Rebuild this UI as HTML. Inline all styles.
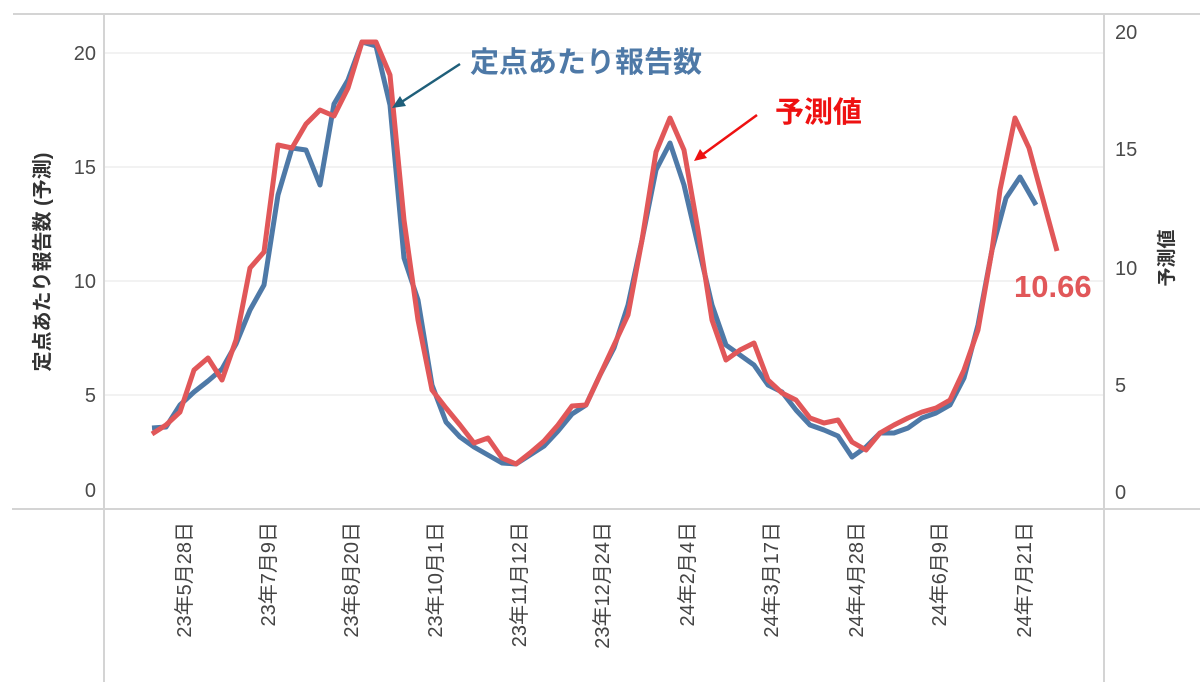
<!DOCTYPE html>
<html><head><meta charset="utf-8"><style>
body{margin:0;background:#fff;}
svg{display:block;font-family:"Liberation Sans","Noto Sans CJK JP",sans-serif;}
</style></head><body>
<svg width="1200" height="695" viewBox="0 0 1200 695">
<line x1="13" y1="14" x2="1200" y2="14" stroke="#d4d4d4" stroke-width="2"/>
<g stroke="#eeeeee" stroke-width="1.5">
<line x1="104" y1="53" x2="1103" y2="53"/>
<line x1="104" y1="167" x2="1103" y2="167"/>
<line x1="104" y1="281" x2="1103" y2="281"/>
<line x1="104" y1="395" x2="1103" y2="395"/>
</g>
<line x1="104" y1="14" x2="104" y2="682" stroke="#d4d4d4" stroke-width="2"/>
<line x1="1104" y1="14" x2="1104" y2="682" stroke="#d4d4d4" stroke-width="2"/>
<line x1="12" y1="509" x2="1200" y2="509" stroke="#d4d4d4" stroke-width="2"/>
<g fill="#4a4a4a" font-size="20" text-anchor="end">
<text x="96" y="60">20</text><text x="96" y="174">15</text><text x="96" y="288">10</text><text x="96" y="402">5</text><text x="96" y="497">0</text>
</g>
<g fill="#4a4a4a" font-size="20" text-anchor="start">
<text x="1115" y="39">20</text><text x="1115" y="156">15</text><text x="1115" y="275">10</text><text x="1115" y="392">5</text><text x="1115" y="499">0</text>
</g>
<text transform="translate(49,262) rotate(-90)" text-anchor="middle" font-size="20" font-weight="bold" fill="#333">定点あたり報告数 (予測)</text>
<text transform="translate(1173,258) rotate(-90)" text-anchor="middle" font-size="19" font-weight="bold" fill="#333">予測値</text>
<g fill="#444" font-size="20" text-anchor="end">
<text transform="translate(191,522) rotate(-90)">23年5月28日</text>
<text transform="translate(275,522) rotate(-90)">23年7月9日</text>
<text transform="translate(358,522) rotate(-90)">23年8月20日</text>
<text transform="translate(442,522) rotate(-90)">23年10月1日</text>
<text transform="translate(526,522) rotate(-90)">23年11月12日</text>
<text transform="translate(609,522) rotate(-90)">23年12月24日</text>
<text transform="translate(694,522) rotate(-90)">24年2月4日</text>
<text transform="translate(778,522) rotate(-90)">24年3月17日</text>
<text transform="translate(863,522) rotate(-90)">24年4月28日</text>
<text transform="translate(946,522) rotate(-90)">24年6月9日</text>
<text transform="translate(1031,522) rotate(-90)">24年7月21日</text>
</g>
<polyline fill="none" stroke="#4e79a7" stroke-width="5" stroke-linejoin="round" points="152,428 166,427 180,405 194,392 208,381 222,369 236,344 250,310 264,285 278,195 292,148 306,150 320,185 334,104 348,80 362,42 376,46 390,105 404,258 418,300 432,385 446,422 460,437 474,447 488,455 502,463 516,464 530,455 544,446 558,431 572,414 586,405 600,375 614,348 628,305 642,240 656,170 670,143 684,185 698,245 712,305 726,345 740,355 754,365 768,385 782,392 796,410 810,425 824,430 838,436 852,457 866,447 880,433 894,433 908,428 922,418 936,413 950,405 964,378 978,325 992,250 1006,198 1020,177 1036,205"/>
<polyline fill="none" stroke="#e15759" stroke-width="5" stroke-linejoin="round" points="152,434 166,425 180,412 194,370 208,358 222,380 236,340 250,268 264,252 278,145 292,148 306,124 320,110 334,116 348,88 362,42 376,42 390,75 404,220 418,320 432,390 446,408 460,425 474,443 488,438 502,458 516,464 530,453 544,441 558,425 572,406 586,405 600,375 614,345 628,315 642,240 656,152 670,118 684,150 698,230 712,320 726,360 740,350 754,343 768,380 782,393 796,400 810,418 824,423 838,420 852,442 866,450 880,433 894,425 908,418 922,412 936,408 950,400 964,370 978,330 992,250 1000,190 1015,118 1029,148 1057,251"/>
<text x="470" y="72" font-size="29" font-weight="bold" fill="#4e79a7">定点あたり報告数</text>
<line x1="460" y1="64" x2="400" y2="103" stroke="#1f5f7a" stroke-width="2.5"/>
<polygon points="392,108 400,96 406,106" fill="#1f5f7a"/>
<text x="775" y="122" font-size="29" font-weight="bold" fill="#ee1111">予測値</text>
<line x1="757" y1="115" x2="702" y2="155" stroke="#ee1111" stroke-width="2.5"/>
<polygon points="694,161 700,149 707,158" fill="#ee1111"/>
<text x="1014" y="297" font-size="31" font-weight="bold" fill="#e15759">10.66</text>
</svg>
</body></html>
